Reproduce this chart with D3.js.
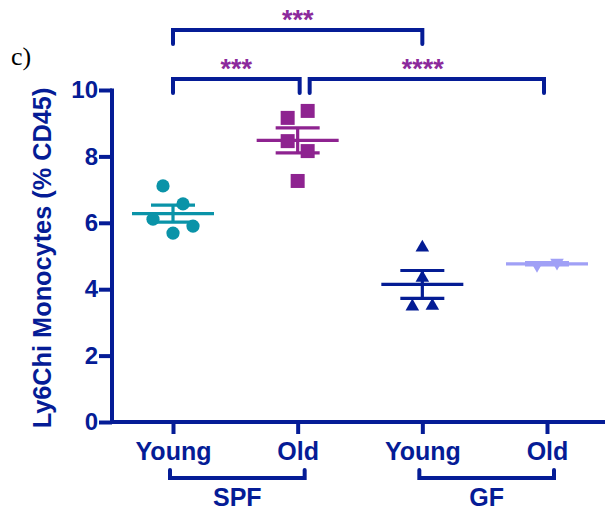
<!DOCTYPE html>
<html>
<head>
<meta charset="utf-8">
<script src="https://cdn.jsdelivr.net/npm/d3@7"></script>
<style>
  html, body { margin: 0; padding: 0; background: #fff; }
  svg { display: block; }
</style>
</head>
<body>
<svg id="chart" width="605" height="510"></svg>
<script>
// Ly6Chi monocytes (% of CD45+) by age and housing condition
const groupLabels = ["Young", "Old", "Young", "Old"];
const conditions = ["SPF", "GF"];
const youngSPF = [7.11, 6.57, 6.11, 5.90, 5.69];
const oldSPF = [9.37, 9.16, 8.46, 8.16, 7.26];
const youngGF = [5.25, 4.34, 3.48, 3.50];
const oldGF = [4.73, 4.80];
const yTicks = [0, 2, 4, 6, 8, 10];
// significance comparisons: [from group, to group, label]
const comparisons = [
  [0, 2, "***"],
  [0, 1, "***"],
  [1, 3, "****"]
];

const navy = "#051c96";
const starColor = "#8c2a9c";
const series = [
  { values: youngSPF, color: "#0a93a8", shape: "circle" },
  { values: oldSPF, color: "#8e2390", shape: "square" },
  { values: youngGF, color: "#041c94", shape: "triangle" },
  { values: oldGF, color: "#a0a0f6", shape: "triangleDown" }
];
// horizontal spread of replicate points (pixels)
const jitter = [
  [-10, 10, -20, 20, 0],
  [10, -10, -10, 10, 0],
  [0, 0, -10, 10],
  [-10, 10]
];

const svg = d3.select("#chart");
const font = "'Liberation Sans', Arial, sans-serif";

const x = d3.scalePoint().domain(d3.range(groupLabels.length)).range([173, 547]);
const y = d3.scaleLinear().domain([0, 10]).range([422, 90]);

// y axis
const yAxis = svg.append("g")
  .attr("transform", "translate(112,0)")
  .call(d3.axisLeft(y).tickValues(yTicks).tickSize(13).tickSizeOuter(0).tickPadding(1));
yAxis.select(".domain").attr("stroke", navy).attr("stroke-width", 4)
  .attr("d", `M0,${y(10) - 1.5}V${y(0) + 2}`);
yAxis.selectAll(".tick line").attr("stroke", navy).attr("stroke-width", 4);
yAxis.selectAll(".tick text").attr("fill", navy)
  .style("font", `bold 24px ${font}`);

// x axis
const xAxis = svg.append("g")
  .attr("transform", "translate(0,422)")
  .call(d3.axisBottom(x).tickFormat(i => groupLabels[i]).tickSize(12).tickSizeOuter(0).tickPadding(8));
xAxis.select(".domain").attr("stroke", navy).attr("stroke-width", 4)
  .attr("d", "M110,0H605");
xAxis.selectAll(".tick line").attr("stroke", navy).attr("stroke-width", 4);
xAxis.selectAll(".tick text").attr("fill", navy)
  .style("font", `bold 25px ${font}`);

// y axis title
svg.append("text")
  .attr("transform", `translate(42,${(y(0) + y(10)) / 2 + 2}) rotate(-90)`)
  .attr("text-anchor", "middle")
  .attr("dominant-baseline", "central")
  .attr("fill", navy)
  .style("font", `bold 25.3px ${font}`)
  .text("Ly6Chi Monocytes (% CD45)");

// panel letter
svg.append("text")
  .attr("x", 11).attr("y", 65)
  .attr("fill", "#000")
  .style("font", "26px 'Liberation Serif', 'DejaVu Serif', serif")
  .text("c)");

// condition brackets under the axis
conditions.forEach((c, k) => {
  const x0 = x(2 * k) - 3, x1 = x(2 * k + 1) + 7;
  svg.append("path")
    .attr("d", `M${x0},470V478H${x1}V470`)
    .attr("fill", "none").attr("stroke", navy).attr("stroke-width", 4)
    .attr("stroke-linecap", "round").attr("stroke-linejoin", "miter");
  svg.append("text")
    .attr("x", (x0 + x1) / 2).attr("y", 506)
    .attr("text-anchor", "middle")
    .attr("fill", navy)
    .style("font", `bold 25px ${font}`)
    .text(c);
});

// significance brackets
const levels = [30, 79];
comparisons.forEach(([a, b, label], k) => {
  const top = k === 0 ? levels[0] : levels[1];
  const x0 = x(a) + (a === 1 ? 12 : 0);
  const x1 = x(b) + (b === 1 ? 2 : b === 3 ? -3 : 0);
  svg.append("path")
    .attr("d", `M${x0},${top + 14}V${top}H${x1}V${top + 14}`)
    .attr("fill", "none").attr("stroke", navy).attr("stroke-width", 4)
    .attr("stroke-linecap", "round");
  svg.append("text")
    .attr("x", (x0 + x1) / 2 - (b === 3 ? 4 : 0)).attr("y", top - 1)
    .attr("text-anchor", "middle")
    .attr("fill", starColor)
    .style("font", `bold 27px ${font}`)
    .text(label);
});

// mean ± SEM bars
series.forEach((s, i) => {
  const cx = x(i);
  const m = d3.mean(s.values);
  const sem = d3.deviation(s.values) / Math.sqrt(s.values.length);
  const g = svg.append("g").attr("stroke", s.color).attr("stroke-width", 3.2);
  g.append("line").attr("x1", cx - 41).attr("x2", cx + 41).attr("y1", y(m)).attr("y2", y(m));
  g.append("line").attr("x1", cx - 22).attr("x2", cx + 22).attr("y1", y(m + sem)).attr("y2", y(m + sem));
  g.append("line").attr("x1", cx - 22).attr("x2", cx + 22).attr("y1", y(m - sem)).attr("y2", y(m - sem));
  g.append("line").attr("x1", cx).attr("x2", cx).attr("y1", y(m + sem)).attr("y2", y(m - sem));
});

// replicate points
const symbolFor = {
  circle: d3.symbol().type(d3.symbolCircle).size(Math.PI * 6.6 * 6.6),
  square: d3.symbol().type(d3.symbolSquare).size(14 * 14),
  triangle: d3.symbol().type(d3.symbolTriangle).size(80),
  triangleDown: d3.symbol().type(d3.symbolTriangle).size(80)
};
series.forEach((s, i) => {
  svg.append("g").selectAll("path")
    .data(s.values)
    .join("path")
    .attr("d", symbolFor[s.shape])
    .attr("transform", (v, j) => `translate(${x(i) + jitter[i][j]},${y(v)})${s.shape === "triangleDown" ? " rotate(180)" : ""}`)
    .attr("fill", s.color);
});
</script>
</body>
</html>
